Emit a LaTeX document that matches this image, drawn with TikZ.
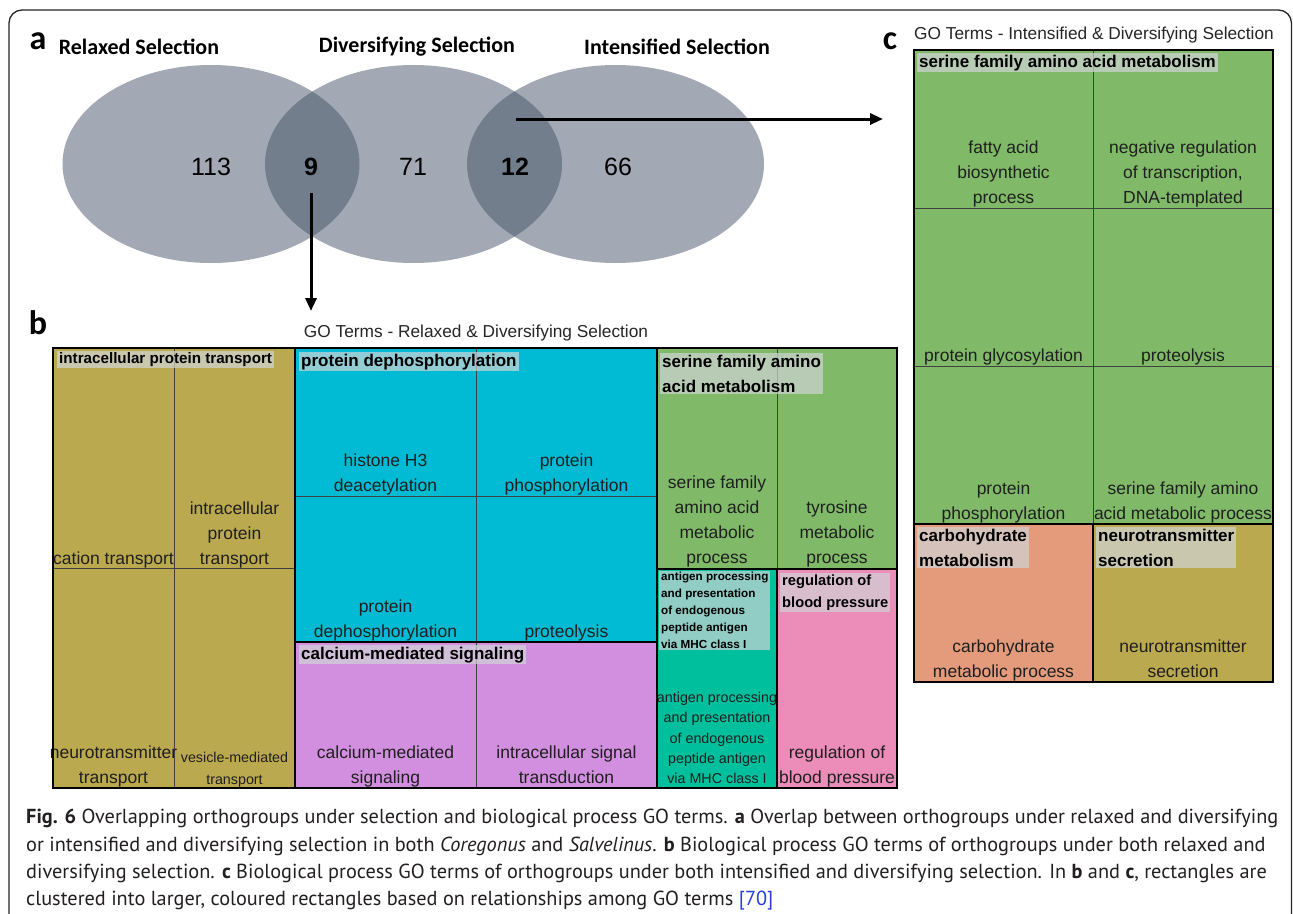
\documentclass[tikz,border=0pt]{standalone}
\usepackage{fontspec}
\setmainfont{Liberation Sans}
\newfontfamily\vennfont{Carlito}
\newfontfamily\capfont{PT Sans}
\usetikzlibrary{arrows.meta,shapes.geometric}
\definecolor{vennfill}{RGB}{162,169,180}
\definecolor{venndark}{RGB}{115,126,141}
\definecolor{tgold}{RGB}{187,169,80}
\definecolor{tcyan}{RGB}{0,187,211}
\definecolor{tpurple}{RGB}{211,143,223}
\definecolor{tgreen}{RGB}{128,186,104}
\definecolor{tteal}{RGB}{0,191,157}
\definecolor{tpink}{RGB}{236,140,184}
\definecolor{tsalmon}{RGB}{227,155,124}
\definecolor{labbg}{RGB}{208,212,214}
\definecolor{captext}{RGB}{35,31,32}
\definecolor{linkblue}{RGB}{40,60,220}
\tikzset{
  grp/.style={draw=black, line width=2pt},
  divline/.style={draw=black!75, line width=0.8pt},
  glab/.style={anchor=north west, fill=labbg, fill opacity=0.7, text opacity=1, inner xsep=2pt, inner ysep=1.5pt, align=left, font=\bfseries\fontsize{17}{25}\selectfont},
  clab/.style={anchor=south, inner sep=0pt, align=center, font=\fontsize{17.5}{25}\selectfont, text=black!88, execute at end node={\vphantom{gp}}},
  vtitle/.style={font=\vennfont\bfseries\fontsize{22}{26}\selectfont},
  panel/.style={font=\vennfont\bfseries\fontsize{34}{36}\selectfont},
  vnum/.style={font=\fontsize{25}{30}\selectfont, inner sep=0pt},
  gotitle/.style={font=\fontsize{17.3}{20}\selectfont, text=black!85},
  bigarrow/.style={line width=3pt, -{Triangle[length=13pt,width=11pt]}},
  capline/.style={anchor=base west, inner sep=0pt, text=captext, font=\capfont\fontsize{20.3}{26}\selectfont},
  venn/.style={ellipse, minimum width=297pt, minimum height=198pt, inner sep=0pt, fill=vennfill}
}
\begin{document}
\begin{tikzpicture}[x=1pt,y=-1pt]
\useasboundingbox (0,0) rectangle (1293,913);
\fill[white] (0,0) rectangle (1293,913);
% outer frame
\draw[line width=1.3pt, black!85, rounded corners=13pt] (9,915) -- (9,10) -- (1291.5,10) -- (1291.5,915);

% ---------- panel a : Venn ----------
\node[panel] (pa) at (38,41) {a};
\node[vtitle] (tR) at (139,47) {Relaxed Selection};
\node[vtitle] (tD) at (417,47) {Diversifying Selection};
\node[vtitle] (tI) at (677,47) {Intensified Selection};

\node[venn] (eL) at (211,164) {};
\node[venn] (eM) at (413.5,164) {};
\node[venn] (eR) at (615.5,164) {};
\begin{scope}
  \clip (211,164) ellipse [x radius=148.5pt, y radius=99pt];
  \fill[venndark] (413.5,164) ellipse [x radius=148.5pt, y radius=99pt];
\end{scope}
\begin{scope}
  \clip (413.5,164) ellipse [x radius=148.5pt, y radius=99pt];
  \fill[venndark] (615.5,164) ellipse [x radius=148.5pt, y radius=99pt];
\end{scope}

\node[vnum] (n113) at (211,167) {113};
\node[vnum, font=\bfseries\fontsize{25}{30}\selectfont] (n9) at (311,167) {9};
\node[vnum] (n71) at (413,167) {71};
\node[vnum, font=\bfseries\fontsize{25}{30}\selectfont] (n12) at (515,167) {12};
\node[vnum] (n66) at (618,167) {66};

\coordinate (a1s) at (311,193);
\coordinate (a1e) at (311,311);
\draw[bigarrow] (a1s) -- (a1e);
\coordinate (a2s) at (516,119);
\coordinate (a2e) at (883,119);
\draw[bigarrow] (a2s) -- (a2e);

% ---------- panel b : treemap ----------
\node[panel] (pb) at (38,323) {b};
\node[gotitle] (gob) at (476,333) {GO Terms - Relaxed \& Diversifying Selection};

% fills
\fill[tgold] (53,348) rectangle (295,788);
\fill[tcyan] (295,348) rectangle (657,642);
\fill[tpurple] (295,642) rectangle (657,788);
\fill[tgreen] (657,348) rectangle (897,569);
\fill[tteal] (657,569) rectangle (777,788);
\fill[tpink] (777,569) rectangle (897,788);
% dividers
\draw[divline] (174,348) -- (174,788);
\draw[divline] (53,568) -- (295,568);
\draw[divline] (476,348) -- (476,788);
\draw[divline] (295,496) -- (657,496);
\draw[divline] (777,348) -- (777,569);

% cell labels
\node[clab] (b1) at (113.5,568) {cation transport};
\node[clab] (b2) at (234.5,568) {intracellular\\protein\\transport};
\node[clab] (b3) at (113.5,787) {neurotransmitter\\transport};
\node[clab, font=\fontsize{14.3}{22}\selectfont] (b4) at (234.5,788) {vesicle-mediated\\transport};
\node[clab] (b5) at (385.5,495) {histone H3\\deacetylation};
\node[clab] (b6) at (566.5,495) {protein\\phosphorylation};
\node[clab] (b7) at (385.5,641) {protein\\dephosphorylation};
\node[clab] (b8) at (566.5,641) {proteolysis};
\node[clab] (b9) at (385.5,787) {calcium-mediated\\signaling};
\node[clab] (b10) at (566.5,787) {intracellular signal\\transduction};
\node[clab] (b11) at (717,567) {serine family\\amino acid\\metabolic\\process};
\node[clab] (b12) at (837,567) {tyrosine\\metabolic\\process};
\node[clab, font=\fontsize{14.3}{20.3}\selectfont] (b13) at (717,787) {antigen processing\\and presentation\\of endogenous\\peptide antigen\\via MHC class I};
\node[clab] (b14) at (837,787) {regulation of\\blood pressure};

% group labels
\node[glab, font=\bfseries\fontsize{15.2}{20}\selectfont] (g1) at (57,351) {intracellular protein transport};
\node[glab] (g2) at (299,352) {protein dephosphorylation};
\node[glab] (g3) at (299,645) {calcium-mediated signaling};
\node[glab] (g4) at (660,353) {serine family amino\\acid metabolism};
\node[glab, font=\bfseries\fontsize{11.7}{17}\selectfont, inner ysep=1pt] (g5) at (659,571) {antigen processing\\and presentation\\of endogenous\\peptide antigen\\via MHC class I};
\node[glab, font=\bfseries\fontsize{14.7}{22}\selectfont] (g6) at (780,573) {regulation of\\blood pressure};

% group borders
\draw[grp] (53,348) rectangle (295,788);
\draw[grp] (295,348) rectangle (657,642);
\draw[grp] (295,642) rectangle (657,788);
\draw[grp] (657,348) rectangle (897,569);
\draw[grp] (657,569) rectangle (777,788);
\draw[grp] (777,569) rectangle (897,788);

% ---------- panel c : treemap ----------
\node[panel] (pc) at (890,41) {c};
\node[gotitle] (goc) at (1094,35) {GO Terms - Intensified \& Diversifying Selection};

\fill[tgreen] (914,50) rectangle (1273,524);
\fill[tsalmon] (914,524) rectangle (1093,682);
\fill[tgold] (1093,524) rectangle (1273,682);
\draw[divline] (1093,50) -- (1093,524);
\draw[divline] (914,208) -- (1273,208);
\draw[divline] (914,366) -- (1273,366);

\node[clab] (c1) at (1003.5,207) {fatty acid\\biosynthetic\\process};
\node[clab] (c2) at (1183,207) {negative regulation\\of transcription,\\DNA-templated};
\node[clab] (c3) at (1003.5,365) {protein glycosylation};
\node[clab] (c4) at (1183,365) {proteolysis};
\node[clab] (c5) at (1003.5,523) {protein\\phosphorylation};
\node[clab] (c6) at (1183,523) {serine family amino\\acid metabolic process};
\node[clab] (c7) at (1003.5,681) {carbohydrate\\metabolic process};
\node[clab] (c8) at (1183,681) {neurotransmitter\\secretion};

\node[glab] (g7) at (917,53) {serine family amino acid metabolism};
\node[glab] (g8) at (917,527) {carbohydrate\\metabolism};
\node[glab] (g9) at (1096,527) {neurotransmitter\\secretion};

\draw[grp] (914,50) rectangle (1273,524);
\draw[grp] (914,524) rectangle (1093,682);
\draw[grp] (1093,524) rectangle (1273,682);

% ---------- caption ----------
\node[capline] (cap1) at (26,823) {\textbf{Fig. 6} Overlapping orthogroups under selection and biological process GO terms. \textbf{a} Overlap between orthogroups under relaxed and diversifying};
\node[capline] (cap2) at (26,851) {or intensified and diversifying selection in both \textit{Coregonus} and \textit{Salvelinus}. \textbf{b} Biological process GO terms of orthogroups under both relaxed and};
\node[capline] (cap3) at (26,878) {diversifying selection. \textbf{c} Biological process GO terms of orthogroups under both intensified and diversifying selection. In \textbf{b} and \textbf{c}, rectangles are};
\node[capline] (cap4) at (26,905) {clustered into larger, coloured rectangles based on relationships among GO terms {\color{linkblue}[70]}};
\end{tikzpicture}
\end{document}
